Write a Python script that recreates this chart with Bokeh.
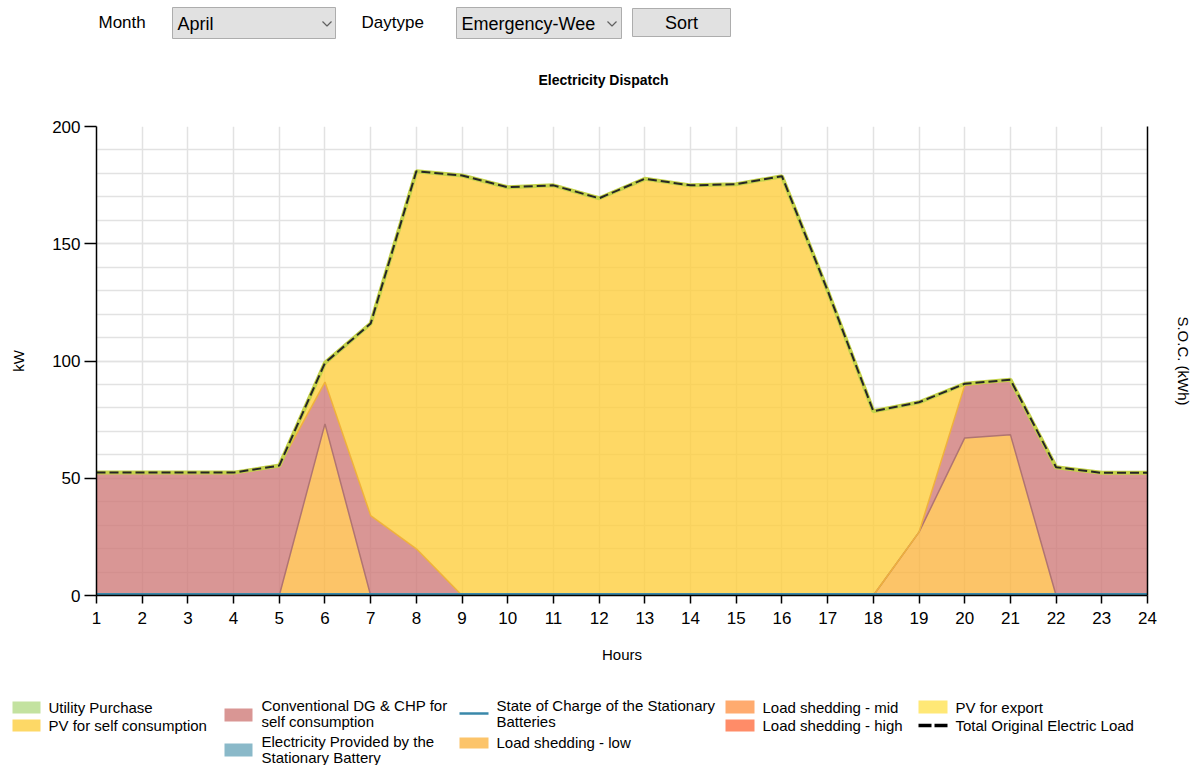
from bokeh.plotting import figure
from bokeh.layouts import column
from bokeh.models import (ColumnDataSource, Range1d, LinearAxis, FixedTicker,
                          SingleIntervalTicker)
from bokeh.transform import stack
from bokeh.core.properties import value
from bokeh.embed import file_html
from bokeh.resources import INLINE

# ---------------- data ----------------
hours = [1, 2, 3, 4, 5, 6, 7, 8, 9, 10, 11, 12, 13, 14, 15, 16, 17, 18, 19, 20, 21, 22, 23, 24]
utility_purchase = [0, 0, 0, 0, 0, 0, 0, 0, 0, 0, 0, 0, 0, 0, 0, 0, 0, 0, 0, 0, 0, 0, 0, 0]
load_shed_low = [0, 0, 0, 0, 0, 73.2, 0, 0, 0, 0, 0, 0, 0, 0, 0, 0, 0, 0, 27.0, 67.2, 68.6, 0, 0, 0]
load_shed_mid = [0, 0, 0, 0, 0, 0, 0, 0, 0, 0, 0, 0, 0, 0, 0, 0, 0, 0, 0, 0, 0, 0, 0, 0]
load_shed_high = [0, 0, 0, 0, 0, 0, 0, 0, 0, 0, 0, 0, 0, 0, 0, 0, 0, 0, 0, 0, 0, 0, 0, 0]
battery_supply = [0, 0, 0, 0, 0, 0, 0, 0, 0, 0, 0, 0, 0, 0, 0, 0, 0, 0, 0, 0, 0, 0, 0, 0]
dg_chp = [52.4, 52.4, 52.4, 52.4, 55.4, 17.8, 34.1, 19.9, 0, 0, 0, 0, 0, 0, 0, 0, 0, 0, 0, 22.4, 23.4, 54.7, 52.3, 52.3]
pv_self = [0, 0, 0, 0, 0, 8.2, 81.9, 161.0, 179.1, 174.1, 174.9, 169.4, 177.7, 174.9, 175.4, 178.8, 130.0, 78.6, 55.4, 0.7, 0, 0, 0, 0]
pv_export = [0, 0, 0, 0, 0, 0, 0, 0, 0, 0, 0, 0, 0, 0, 0, 0, 0, 0, 0, 0, 0, 0, 0, 0]
total_load = [52.4, 52.4, 52.4, 52.4, 55.4, 99.2, 116.0, 180.9, 179.1, 174.1, 174.9, 169.4, 177.7, 174.9, 175.4, 178.8, 130.0, 78.6, 82.4, 90.3, 92.0, 54.7, 52.3, 52.3]
soc = [0, 0, 0, 0, 0, 0, 0, 0, 0, 0, 0, 0, 0, 0, 0, 0, 0, 0, 0, 0, 0, 0, 0, 0]

series_names = ["Utility Purchase", "PV for self consumption",
                "Conventional DG & CHP for self consumption",
                "Electricity Provided by the Stationary Battery",
                "State of Charge of the Stationary Batteries",
                "Load shedding - low", "Load shedding - mid", "Load shedding - high",
                "PV for export", "Total Original Electric Load"]

FONT = "Liberation Sans"
W = 1196
TOP_H, MAIN_H, LEG_H = 100, 590, 75
FL, FR, FT, FB = 96, 1147, 126, 595   # frame edges on the page

# ---------------- main chart ----------------
src = ColumnDataSource(dict(hour=hours, util=utility_purchase, low=load_shed_low,
                            mid=load_shed_mid, high=load_shed_high, batt=battery_supply,
                            dg=dg_chp, pv=pv_self, pvx=pv_export, total=total_load, soc=soc))

p = figure(width=W, height=MAIN_H, output_backend="svg", toolbar_location=None,
           x_range=Range1d(1, 24), y_range=Range1d(0, 200),
           min_border_left=FL, min_border_right=W - FR,
           min_border_top=FT - TOP_H, min_border_bottom=TOP_H + MAIN_H - FB)
p.outline_line_color = None
p.frame_align = False

p.xgrid.ticker = FixedTicker(ticks=hours)
for g in (p.xgrid[0], p.ygrid[0]):
    g.grid_line_color = "#e2e2e2"
    g.grid_line_width = 1.5
p.ygrid.minor_grid_line_color = "#e2e2e2"
p.ygrid.minor_grid_line_width = 1.5

p.xaxis.ticker = FixedTicker(ticks=hours)
p.yaxis.ticker = SingleIntervalTicker(interval=50, num_minor_ticks=5)
for ax in (p.xaxis[0], p.yaxis[0]):
    ax.axis_line_color = "black"
    ax.axis_line_width = 1.5
    ax.major_tick_line_color = "black"
    ax.major_tick_line_width = 1.5
    ax.major_tick_in = 0
    ax.minor_tick_line_color = None
    ax.major_label_text_font = FONT
    ax.major_label_text_font_size = "17px"
    ax.major_label_text_color = "black"
    ax.axis_label_text_font = FONT
    ax.axis_label_text_font_size = "15px"
    ax.axis_label_text_font_style = "normal"
    ax.axis_label_text_color = "black"
p.xaxis.major_tick_out = 8
p.xaxis.major_label_standoff = 8
p.xaxis.axis_label = "Hours"
p.xaxis.axis_label_standoff = 19
p.yaxis.major_tick_out = 12
p.yaxis.major_label_standoff = 4
p.yaxis.axis_label = "kW"
p.yaxis.axis_label_standoff = 22

p.extra_y_ranges = {"soc": Range1d(-0.6, 200)}
rax = LinearAxis(y_range_name="soc", axis_label="S.O.C. (kWh)", ticker=FixedTicker(ticks=[]))
rax.axis_line_color = "black"
rax.axis_line_width = 1.5
rax.major_tick_out = 0
rax.major_tick_in = 0
rax.major_label_text_font_size = "0px"
rax.axis_label_text_font = FONT
rax.axis_label_text_font_size = "15px"
rax.axis_label_text_font_style = "normal"
rax.axis_label_text_color = "black"
rax.axis_label_standoff = 27
p.add_layout(rax, "right")

stackers = ["util", "low", "mid", "high", "batt", "dg", "pv", "pvx"]
area_colors = ["#c3e2a0", "#fbb542", "#ffab6f", "#ff8c68", "#8ab9c9", "#d07c7a", "#fece3e", "#ffe876"]
p.varea_stack(stackers=stackers, x="hour", color=area_colors, fill_alpha=0.8, source=src)

p.line(x="hour", y=stack("util", "low", "mid", "high", "batt"), source=src,
       line_color="#b07472", line_width=1.5)
p.line(x="hour", y=stack("util", "low", "mid", "high", "batt", "dg"), source=src,
       line_color="#f0b23a", line_width=1.5)

p.line(x="hour", y="total", source=src, line_color="#c4d24a", line_width=4)
p.line(x="hour", y="total", source=src, line_color="#262626", line_width=2, line_dash="9 4")

p.line(x="hour", y="soc", source=src, y_range_name="soc", line_color="#3a88aa", line_width=2)


# ---------------- helper for plain pixel-space panels ----------------
def panel(height):
    f = figure(width=W, height=height, output_backend="svg", toolbar_location=None,
               x_range=Range1d(0, W), y_range=Range1d(height, 0),
               min_border=0, x_axis_type=None, y_axis_type=None)
    f.min_border_left = 0
    f.min_border_right = 0
    f.min_border_top = 0
    f.min_border_bottom = 0
    f.outline_line_color = None
    f.frame_align = False
    f.xgrid.visible = False
    f.ygrid.visible = False
    return f


def texts(f, xs, ys, ss, size, align="left", style="normal", color="black"):
    f.text(x=xs, y=ys, text=ss, text_font=value(FONT), text_font_size=value(size),
           text_align=align, text_baseline="middle", text_font_style=style,
           text_color=color)


# ---------------- top: controls + title ----------------
top = panel(TOP_H)
top.quad(left=[172, 456, 632], right=[335, 621, 730], top=[7, 7, 8], bottom=[38, 38, 36],
         fill_color="#e1e1e1", line_color="#adadad", line_width=1)
texts(top, [98, 361], [22, 22], ["Month", "Daytype"], "17px")
texts(top, [177, 461], [23, 23], ["April", "Emergency-Wee"], "18px")
texts(top, [681], [22], ["Sort"], "18px", "center")
top.multi_line(xs=[[322, 326.5, 331], [607, 611.5, 616]], ys=[[21, 25.5, 21], [21, 25.5, 21]],
               line_color="#606060", line_width=1.2)
texts(top, [603], [79], ["Electricity Dispatch"], "14px", "center", "bold")

# ---------------- bottom: legend ----------------
leg = panel(LEG_H)
o = TOP_H + MAIN_H
leg.quad(left=[12, 12, 224, 224, 459, 725, 725, 918],
         right=[40, 40, 252, 252, 488, 754, 754, 947],
         top=[701 - o, 719 - o, 708 - o, 743 - o, 737 - o, 700 - o, 719 - o, 700 - o],
         bottom=[713 - o, 731 - o, 721 - o, 756 - o, 748 - o, 713 - o, 731 - o, 713 - o],
         fill_color=["#c3e2a0", "#fdd866", "#d99694", "#8ab9c9", "#fcc46a",
                     "#ffab6f", "#ff8c68", "#ffe876"],
         line_color=None)
leg.line(x=[459, 488], y=[713 - o, 713 - o], line_color="#3a88aa", line_width=2.5)
leg.line(x=[918, 948], y=[725 - o, 725 - o], line_color="black", line_width=3.5, line_dash="13 3")

texts(leg,
      [48, 48, 261, 261, 261, 261, 496, 496, 496, 762, 762, 955, 955],
      [707 - o, 725 - o, 705 - o, 721 - o, 741 - o, 757 - o, 705 - o, 721 - o, 742 - o,
       707 - o, 725 - o, 707 - o, 725 - o],
      [series_names[0], series_names[1],
       "Conventional DG & CHP for", "self consumption",
       "Electricity Provided by the", "Stationary Battery",
       "State of Charge of the Stationary", "Batteries",
       series_names[5], series_names[6], series_names[7], series_names[8], series_names[9]],
      "15px")

layout = column(top, p, leg, spacing=0)
open("out.html", "w").write(file_html(layout, INLINE))
